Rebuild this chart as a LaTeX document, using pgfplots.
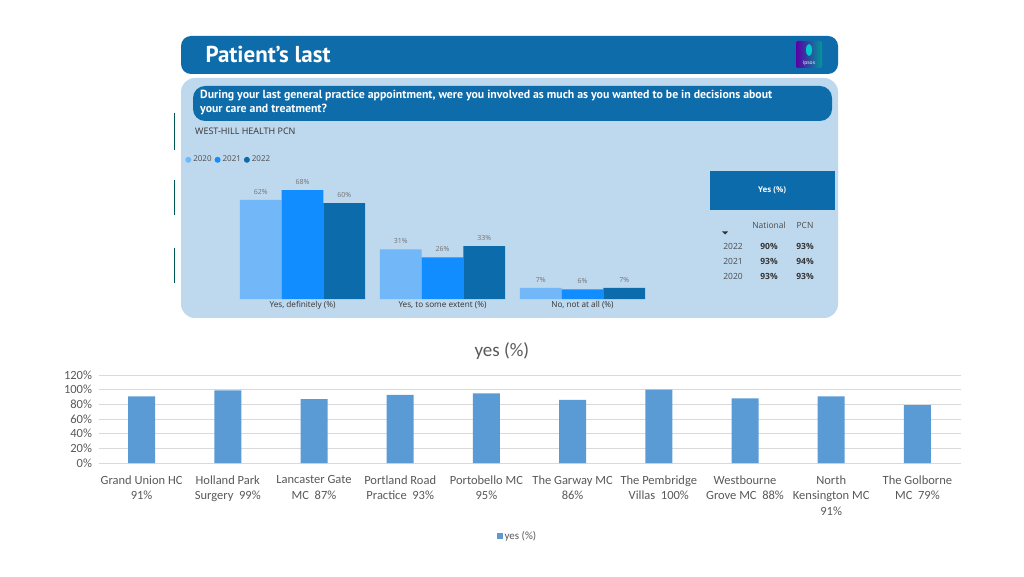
\documentclass[border=0pt]{standalone}
\usepackage{fontspec}
\setmainfont{Carlito}
\newfontfamily\din{PT Sans}
\newfontfamily\seg{Open Sans}
\usepackage{pgfplots}
\pgfplotsset{compat=1.18}

\definecolor{hdr}{HTML}{0F6CAA}
\definecolor{panel}{HTML}{BED8EE}
\definecolor{c20}{HTML}{72B7F7}
\definecolor{c21}{HTML}{118DFF}
\definecolor{c22}{HTML}{0C6BAA}
\definecolor{xlbar}{HTML}{5B9BD5}
\definecolor{xltext}{HTML}{595959}
\definecolor{xlgrid}{HTML}{D9D9D9}

\begin{document}
\begin{tikzpicture}[x=1pt,y=1pt]
\path[use as bounding box, fill=white] (0,0) rectangle (1024,576);

% --- dashboard screenshot (top) ---
\fill[hdr, rounded corners=10pt] (181,502) rectangle (838,540);
\node[anchor=west, white, font=\din\bfseries\fontsize{23}{23}\selectfont] at (202,522) {Patient’s last};
\shade[left color=violet!70!blue, right color=teal!80!cyan, rounded corners=2pt] (796,508) rectangle (822,535);
\fill[teal!40!cyan] (809,526) ellipse (3pt and 6pt);
\node[white, font=\seg\fontsize{5}{5}\selectfont] at (809,512.5) {Ipsos};

\fill[panel, rounded corners=14pt] (181,258) rectangle (838,498);
\fill[hdr, rounded corners=12pt] (193,455) rectangle (832,490);
\node[anchor=north west, white, align=left, inner sep=0pt,
      font=\din\bfseries\fontsize{11.8}{14.5}\selectfont] at (200,486.5)
  {During your last general practice appointment, were you involved as much as you wanted to be in decisions about\\your care and treatment?};
\node[anchor=west, inner sep=0pt, text=black!80, font=\seg\fontsize{9}{9}\selectfont] at (195,445) {WEST-HILL HEALTH PCN};
\draw[teal!70!black, line width=0.7pt] (174.5,463) -- (174.5,426) (174.5,396) -- (174.5,361) (174.5,328) -- (174.5,293);

\fill[c22] (710,366) rectangle (835,405);
\node[white, font=\seg\bfseries\fontsize{8}{8}\selectfont] at (772,385.5) {Yes (\%)};
\begin{scope}[font=\seg\fontsize{8.5}{9}\selectfont, text=black!70]
\node at (769,351) {National};
\node at (805,351) {PCN};
\fill[black!80] (722,344.5) -- (728,344.5) -- (725,341.5) -- cycle;
\node at (733,330) {2022};
\node at (733,315) {2021};
\node at (733,300) {2020};
\end{scope}
\begin{scope}[font=\seg\bfseries\fontsize{8.5}{9}\selectfont, text=black!80]
\node at (769,330) {90\%};
\node at (769,315) {93\%};
\node at (769,300) {93\%};
\node at (805,330) {93\%};
\node at (805,315) {94\%};
\node at (805,300) {93\%};
\end{scope}

\begin{axis}[
  at={(232.5pt,277pt)}, anchor=south west,
  scale only axis, width=420pt, height=120pt,
  ybar=0pt, bar width=41.7pt,
  xmin=-0.5, xmax=2.5, ymin=0, ymax=75,
  enlargelimits=false, clip=false,
  /pgf/number format/assume math mode=true,
  axis line style={draw=none}, major tick length=0pt,
  ytick=\empty, xtick={0,1,2},
  xticklabels={{Yes, definitely (\%)},{Yes, to some extent (\%)},{No, not at all (\%)}},
  xticklabel style={font=\seg\fontsize{8.2}{9}\selectfont, text=black!80, yshift=1pt},
  nodes near coords={\pgfmathprintnumber{\pgfplotspointmeta}\%},
  every node near coord/.append style={font=\seg\fontsize{7}{7}\selectfont, text=black!55, yshift=2pt},
  legend columns=3,
  legend style={at={(-0.12,1.16)}, anchor=west, draw=none, fill=none,
    font=\seg\fontsize{8}{8}\selectfont, text=black!70,
    /tikz/every even column/.append style={column sep=1pt}},
]
\addplot[fill=c20, draw=none, legend image code/.code={\fill[c20] (3pt,0pt) circle (3pt);}] coordinates {(0,62) (1,31) (2,7)};
\addplot[fill=c21, draw=none, legend image code/.code={\fill[c21] (3pt,0pt) circle (3pt);}] coordinates {(0,68) (1,26) (2,6)};
\addplot[fill=c22, draw=none, legend image code/.code={\fill[c22] (3pt,0pt) circle (3pt);}] coordinates {(0,60) (1,33) (2,7)};
\legend{2020,2021,2022}
\end{axis}

% --- Excel chart (bottom) ---
\begin{axis}[
  at={(98.5pt,113pt)}, anchor=south west,
  scale only axis, width=862pt, height=88pt,
  ybar, bar width=27pt,
  xmin=-0.5, xmax=9.5, ymin=0, ymax=120,
  enlargelimits=false, clip=false,
  /pgf/number format/assume math mode=true,
  ytick={0,20,...,120},
  yticklabel={\pgfmathprintnumber{\tick}\%},
  ymajorgrids, grid style={xlgrid, line width=0.8pt},
  axis x line*=bottom, axis y line*=left,
  x axis line style={xlgrid, line width=0.8pt, -},
  y axis line style={draw=none},
  major tick length=0pt,
  tick label style={font=\fontsize{12.5}{15.5}\selectfont, text=xltext},
  xtick={0,...,9},
  xticklabels={{Grand Union HC\\91\%},{Holland Park\\Surgery~~99\%},{Lancaster Gate\\MC~~87\%},{Portland Road\\Practice~~93\%},{Portobello MC\\95\%},{The Garway MC\\86\%},{The Pembridge\\Villas~~100\%},{Westbourne\\Grove MC~~88\%},{North\\Kensington MC\\91\%},{The Golborne\\MC~~79\%}},
  xticklabel style={align=center, yshift=-9pt},
  yticklabel style={xshift=-3pt},
  title={yes (\%)},
  title style={at={(0.468,1)}, anchor=south, yshift=6pt, font=\fontsize{19}{20}\selectfont, text=xltext},
  legend style={at={(0.486,-0.83)}, anchor=center, draw=none,
    font=\fontsize{11}{12}\selectfont, text=xltext},
  legend image code/.code={\fill[xlbar] (0pt,-3pt) rectangle (6pt,3pt);},
]
\addplot[fill=xlbar, draw=none] coordinates {(0,91) (1,99) (2,87) (3,93) (4,95) (5,86) (6,100) (7,88) (8,91) (9,79)};
\legend{yes (\%)}
\end{axis}
\end{tikzpicture}
\end{document}
